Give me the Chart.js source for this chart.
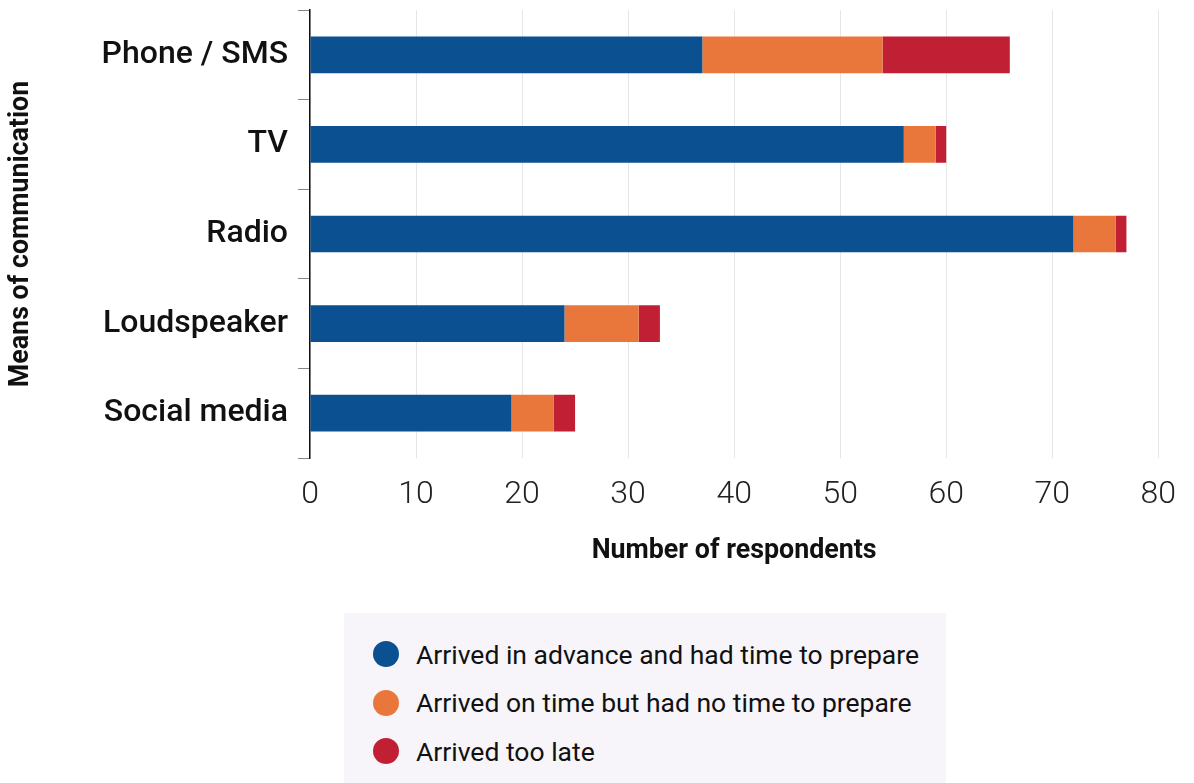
<!DOCTYPE html>
<html>
<head>
<meta charset="utf-8">
<title>Means of communication</title>
<script src="https://cdn.jsdelivr.net/npm/chart.js@4/dist/chart.umd.min.js"></script>
<style>
    body {
        margin: 0;
        background: #fff;
        font-family: Roboto, sans-serif;
    }
    .wrap {
        position: relative;
        width: 1194px;
        height: 783px;
        overflow: hidden;
    }
    #chartCanvas {
        position: absolute;
        left: 0;
        top: 0;
    }
    .legend {
        position: absolute;
        left: 344px;
        top: 613px;
        width: 602px;
        height: 170px;
        background: #f7f5f9;
    }
    .legend-item {
        position: absolute;
        left: 29px;
        height: 40px;
        display: flex;
        align-items: center;
        white-space: nowrap;
        font-size: 26.5px;
        color: #111;
    }
    .legend-dot {
        width: 26px;
        height: 26px;
        border-radius: 50%;
        margin-right: 17px;
    }
</style>
</head>
<body>
<div class="wrap">
    <canvas id="chartCanvas" width="1194" height="590"></canvas>
    <div class="legend"></div>
</div>
<script>
// respondents per channel, split by when the warning arrived
const categories = ['Phone / SMS', 'TV', 'Radio', 'Loudspeaker', 'Social media']
const inAdvance = [37, 56, 72, 24, 19]
const onTime = [17, 3, 4, 7, 4]
const tooLate = [12, 1, 1, 2, 2]
const seriesLabels = [
    'Arrived in advance and had time to prepare',
    'Arrived on time but had no time to prepare',
    'Arrived too late'
]
const seriesColors = ['#0b5090', '#e9773b', '#c01f34']
const xTicks = [0, 10, 20, 30, 40, 50, 60, 70, 80]

const seriesValues = [inAdvance, onTime, tooLate]

const chartData = {
    labels: categories,
    datasets: seriesValues.map((values, i) => ({
        label: seriesLabels[i],
        data: values,
        backgroundColor: seriesColors[i],
        borderWidth: 0,
        categoryPercentage: 1,
        barPercentage: 0.41
    }))
}

const config = {
    type: 'bar',
    data: chartData,
    options: {
        indexAxis: 'y',
        responsive: false,
        animation: false,
        layout: {
            padding: { top: 10, right: 28, bottom: 0, left: 0 }
        },
        plugins: {
            legend: { display: false },
            tooltip: { enabled: false }
        },
        scales: {
            x: {
                stacked: true,
                min: xTicks[0],
                max: xTicks[xTicks.length - 1],
                afterBuildTicks: scale => {
                    scale.ticks = xTicks.map(v => ({ value: v }))
                },
                afterFit: scale => { scale.height = 132 },
                grid: {
                    color: '#e6e6e6',
                    lineWidth: 1,
                    drawTicks: false
                },
                border: { display: false },
                ticks: {
                    padding: 18,
                    color: '#222',
                    font: { family: 'Roboto', size: 32, weight: 300 }
                },
                title: {
                    display: true,
                    text: 'Number of respondents',
                    color: '#111',
                    font: { family: 'Roboto', size: 26.8, weight: 'bold' },
                    padding: { top: 0, bottom: 23 }
                }
            },
            y: {
                stacked: true,
                afterFit: scale => {
                    scale.width = 310
                    scale.paddingTop = 0
                    scale.paddingBottom = 0
                },
                grid: {
                    drawOnChartArea: false,
                    drawTicks: true,
                    tickLength: 12,
                    color: '#888',
                    offset: true
                },
                border: { display: true, color: '#111', width: 1.5 },
                ticks: {
                    padding: 10,
                    color: '#111',
                    font: { family: 'Roboto', size: 32, weight: 500 }
                },
                title: {
                    display: true,
                    text: 'Means of communication',
                    color: '#111',
                    font: { family: 'Roboto', size: 26.8, weight: 'bold' },
                    padding: { top: 5, bottom: 0 }
                }
            }
        }
    }
}

const myChart = new Chart(document.getElementById('chartCanvas'), config)

// legend box under the chart
let legendHtml = ''
myChart.data.datasets.forEach((ds, i) => {
    legendHtml += `
        <div class="legend-item" style="top: ${21 + i * 48.5}px">
            <span class="legend-dot" style="background: ${ds.backgroundColor}"></span>
            <span>${ds.label}</span>
        </div>
    `
})
document.querySelector('.legend').innerHTML = legendHtml
</script>
</body>
</html>
